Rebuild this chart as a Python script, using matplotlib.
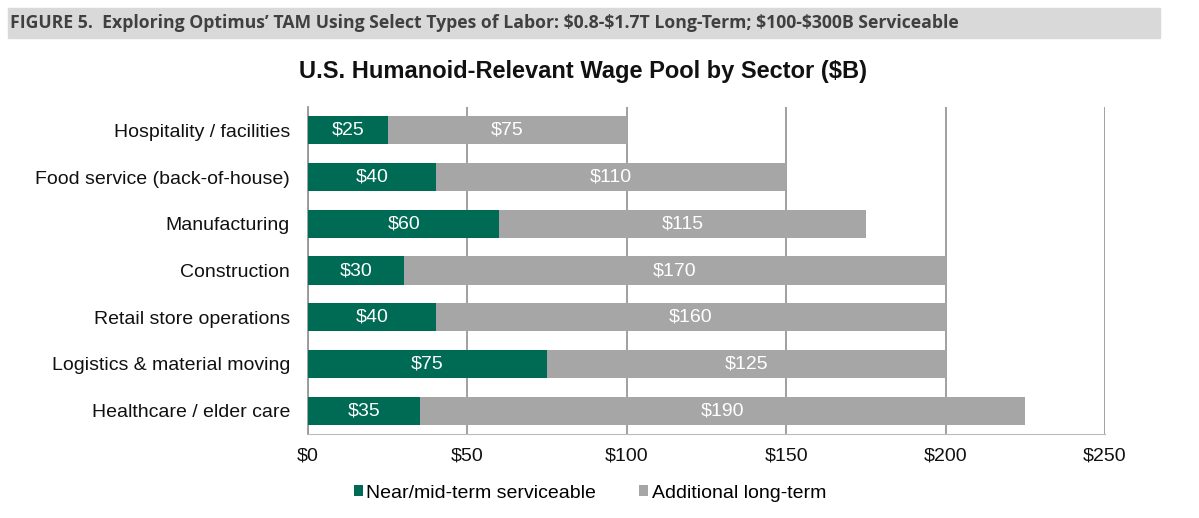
import matplotlib.pyplot as plt
from matplotlib.patches import Rectangle

sectors = [
    "Hospitality / facilities",
    "Food service (back-of-house)",
    "Manufacturing",
    "Construction",
    "Retail store operations",
    "Logistics & material moving",
    "Healthcare / elder care",
]
near_term = [25, 40, 60, 30, 40, 75, 35]
long_term = [75, 110, 115, 170, 160, 125, 190]
xticks = [0, 50, 100, 150, 200, 250]

GREEN = "#006B54"
GREY = "#A6A6A6"


def main():
    plt.rcParams["font.family"] = ["Liberation Sans", "DejaVu Sans"]
    plt.rcParams["text.parse_math"] = False
    fig = plt.figure(figsize=(11.99, 5.18), dpi=100)

    # header band
    fig.patches.append(
        Rectangle((8 / 1199, 1 - 38 / 518), 1152 / 1199, 30 / 518,
                  transform=fig.transFigure, color="#D9D9D9", zorder=0)
    )
    fig.text(10 / 1199, 1 - 23 / 518,
             "FIGURE 5.  Exploring Optimus\u2019 TAM Using Select Types of Labor: "
             "$0.8-$1.7T Long-Term; $100-$300B Serviceable",
             fontsize=12.7, fontweight="bold", color="#404040", va="center",
             family=["Open Sans", "DejaVu Sans"], parse_math=False)
    fig.text(583 / 1199, 1 - 71 / 518, "U.S. Humanoid-Relevant Wage Pool by Sector ($B)",
             fontsize=17, fontweight="bold", color="#111111", ha="center", va="center",
             parse_math=False)

    ax = fig.add_axes([308 / 1199, 1 - 434 / 518, 797 / 1199, 327 / 518])
    y = list(range(len(sectors)))
    b1 = ax.barh(y, near_term, height=0.6, color=GREEN, label="Near/mid-term serviceable", zorder=3)
    b2 = ax.barh(y, long_term, left=near_term, height=0.6, color=GREY,
                 label="Additional long-term", zorder=3)
    ax.bar_label(b1, labels=[f"${v}" for v in near_term], label_type="center",
                 color="white", fontsize=14)
    ax.bar_label(b2, labels=[f"${v}" for v in long_term], label_type="center",
                 color="white", fontsize=14)

    ax.set_xlim(0, 250)
    ax.set_ylim(len(sectors) - 0.5, -0.5)
    ax.set_yticks(y)
    ax.set_yticklabels(sectors, fontsize=14, color="#111111")
    ax.set_xticks(xticks)
    ax.set_xticklabels([f"${v}" for v in xticks], fontsize=14, color="#111111")
    ax.tick_params(axis="y", length=0, pad=13)
    ax.tick_params(axis="x", length=0, pad=10)

    ax.grid(axis="x", color="#999999", linewidth=1.3, zorder=0)
    for side in ["top", "right"]:
        ax.spines[side].set_visible(False)
    ax.spines["left"].set_color("#999999")
    ax.spines["bottom"].set_color("#BBBBBB")
    ax.spines["left"].set_linewidth(1.3)

    ax.legend(loc="center", bbox_to_anchor=(590 / 1199, 1 - 493 / 518),
              bbox_transform=fig.transFigure, ncol=2, frameon=False,
              fontsize=14, handlelength=0.45, handleheight=0.45,
              handletextpad=0.2, columnspacing=2.2)

    fig.savefig("out.png", dpi=100)


if __name__ == "__main__":
    main()
